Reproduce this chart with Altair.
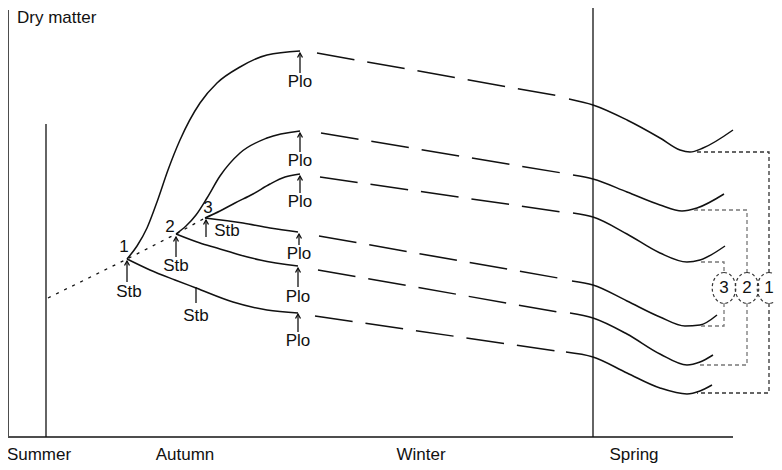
import altair as alt
import pandas as pd

# ---------------- data (schematic units; y grows downward) ----------------
# frame lines: left axis, bottom axis
frame_x = [8, 8]
frame_y = [10, 437]
frame_x2 = [8, 733]
frame_y2 = [437, 437]

# season dividers: summer, spring
divider_x = [46, 593]
divider_top = [124, 8]
divider_bottom = [437, 437]

# stubble points 1-2-3 joined by the dotted line
dotted_x = [48, 127, 176, 205]
dotted_y = [298, 259, 234, 218]

# autumn growth (solid) up to ploughing
growth = {
    "A": ([127, 137, 147, 157, 168, 180, 200, 217, 240, 267, 300],
          [259, 246, 228, 202, 170, 140, 103, 83, 67, 55, 51]),
    "B": ([176, 186, 196, 207, 220, 240, 267, 300],
          [234, 226, 215, 198, 176, 153, 138, 131]),
    "C": ([205, 220, 235, 253, 270, 285, 300],
          [218, 211, 203, 194, 184, 177, 174]),
    "D": ([205, 243, 270, 298],
          [218, 223, 228, 232]),
    "E": ([176, 200, 217, 240, 260, 298],
          [234, 243, 248, 255, 260, 266]),
    "F": ([127, 150, 175, 196, 233, 267, 298],
          [259, 270, 280, 288, 302, 310, 313]),
}

# winter (long dashes)
winter = {
    "A": ([317, 559], [53, 96]),
    "B": ([321, 562], [133, 173]),
    "C": ([320, 562], [177, 212]),
    "D": ([319, 558], [236, 278]),
    "E": ([318, 558], [270, 312]),
    "F": ([315, 556], [316, 351]),
}

# spring (solid)
spring = {
    "A": ([569, 593, 627, 660, 680, 690, 703, 733], [99, 105, 120, 138, 150, 152, 148, 130]),
    "B": ([573, 593, 627, 660, 682, 697, 724], [175, 179, 192, 205, 211, 208, 194]),
    "C": ([573, 593, 627, 660, 687, 700, 725], [213, 217, 234, 253, 262, 260, 246]),
    "D": ([572, 593, 627, 660, 685, 700, 717], [281, 285, 301, 317, 326, 325, 315]),
    "E": ([570, 593, 627, 660, 687, 700, 713], [313, 318, 334, 354, 365, 362, 355]),
    "F": ([566, 593, 627, 660, 687, 700, 712], [352, 357, 373, 388, 394, 391, 385]),
}

# dashed brackets linking spring minima to the circled numbers
brackets = {
    "1a": ([697, 769, 769], [152, 152, 273]),
    "1b": ([769, 769, 697], [303, 393, 393]),
    "2a": ([694, 747, 747], [210, 210, 273]),
    "2b": ([747, 747, 699], [303, 365, 365]),
    "3a": ([701, 724, 724], [262, 262, 273]),
    "3b": ([724, 724, 698], [303, 326, 326]),
}
circle_x = [724, 747, 769]
circle_y = [288, 288, 288]
circle_label = ["3", "2", "1"]

# arrows (x, tail, tip)
plo_x = [300, 300, 300, 299, 298, 298]
plo_tail = [73, 152, 193, 245, 287, 332]
plo_tip = [53, 133, 176, 234, 268, 314]
plo_label_y = [82, 161, 202, 254, 297, 341]

stb_x = [127, 176, 206]
stb_tail = [282, 257, 237]
stb_tip = [261, 237, 220]
stb_label_x = [129, 176, 227, 196]
stb_label_y = [292, 266, 231, 316]

# plain tick (no arrowhead) on the lowest curve
tick_x = [196]
tick_top = [287]
tick_bottom = [303]

point_label = ["1", "2", "3"]
point_label_x = [124, 170, 208]
point_label_y = [247, 227, 208]

seasons = ["Summer", "Autumn", "Winter", "Spring"]
season_x = [39, 185, 421, 634]
season_y = [455, 455, 455, 455]

title_text = ["Dry matter"]
title_x = [17]
title_y = [18]

# ---------------- build tables ----------------
def to_rows(dct, phase):
    rows = []
    for name, (xs_, ys_) in dct.items():
        for i, (xv, yv) in enumerate(zip(xs_, ys_)):
            rows.append({"phase": phase, "seg": phase + name, "grp": name[0], "i": i, "x": xv, "y": yv})
    return rows

curves_df = pd.DataFrame(to_rows(growth, "growth") + to_rows(spring, "spring"))
winter_df = pd.DataFrame(to_rows(winter, "winter"))
bracket_df = pd.DataFrame(to_rows(brackets, "br"))
dotted_df = pd.DataFrame({"x": dotted_x, "y": dotted_y, "i": range(len(dotted_x))})
frame_df = pd.DataFrame({"x": frame_x, "y": frame_y, "x2": frame_x2, "y2": frame_y2})
divider_df = pd.DataFrame({"x": divider_x, "y": divider_top, "y2": divider_bottom})
arrow_df = pd.DataFrame({"x": plo_x + stb_x, "y": plo_tail + stb_tail, "y2": plo_tip + stb_tip})
tick_df = pd.DataFrame({"x": tick_x, "y": tick_top, "y2": tick_bottom})
circle_df = pd.DataFrame({"x": circle_x, "y": circle_y, "t": circle_label})
text_df = pd.DataFrame({
    "x": plo_x + stb_label_x + point_label_x,
    "y": plo_label_y + stb_label_y + point_label_y,
    "t": ["Plo"] * len(plo_x) + ["Stb"] * len(stb_label_x) + point_label,
})
season_df = pd.DataFrame({"x": season_x, "y": season_y, "t": seasons})
title_df = pd.DataFrame({"x": title_x, "y": title_y, "t": title_text})

# ---------------- scales ----------------
xs = alt.Scale(domain=[8, 774], nice=False, zero=False)
ys = alt.Scale(domain=[8, 462], nice=False, zero=False, reverse=True)
X = alt.X("x:Q", scale=xs, axis=None)
Y = alt.Y("y:Q", scale=ys, axis=None)
FONT = "Liberation Sans"
INK = "#111111"
FS = 17

frame = alt.Chart(frame_df).mark_rule(color="#4d4d4d", strokeWidth=2).encode(
    X, Y, x2="x2:Q", y2="y2:Q")
dividers = alt.Chart(divider_df).mark_rule(color=INK, strokeWidth=1.3).encode(X, Y, y2="y2:Q")

solid = alt.Chart(curves_df).mark_line(interpolate="monotone", color=INK, strokeWidth=1.5).encode(
    X, Y, detail="seg:N", order="i:Q")
dashed = alt.Chart(winter_df).mark_line(color=INK, strokeWidth=1.5, strokeDash=[38, 13]).encode(
    X, Y, detail="seg:N", order="i:Q")
dotted = alt.Chart(dotted_df).mark_line(color=INK, strokeWidth=1.3, strokeDash=[3, 6]).encode(
    X, Y, order="i:Q")

bracket = alt.Chart(bracket_df).mark_line(strokeWidth=1.3, strokeDash=[4, 3]).encode(
    X, Y, detail="seg:N", order="i:Q",
    color=alt.Color("grp:N", scale=alt.Scale(domain=["1", "2", "3"], range=["#333333", "#777777", "#777777"]), legend=None))

ELLIPSE = ("M0,-1 C0.4197,-1 0.76,-0.5523 0.76,0 C0.76,0.5523 0.4197,1 0,1 "
           "C-0.4197,1 -0.76,0.5523 -0.76,0 C-0.76,-0.5523 -0.4197,-1 0,-1 Z")
circles = alt.Chart(circle_df).mark_point(shape=ELLIPSE, size=961, filled=False, color="#333333",
                                          strokeWidth=1.2, strokeDash=[3, 2.5], opacity=1).encode(X, Y)
circle_text = alt.Chart(circle_df).mark_text(font=FONT, fontSize=FS, color=INK, baseline="middle").encode(
    X, Y, text="t:N")

shafts = alt.Chart(arrow_df).mark_rule(color=INK, strokeWidth=1.3).encode(X, Y, y2="y2:Q")
HEAD = "M-1,1.8 L0,0 L1,1.8"
heads = alt.Chart(arrow_df).mark_point(shape=HEAD, size=25, filled=False, color=INK,
                                       strokeWidth=1.3, opacity=1).encode(X, alt.Y("y2:Q", scale=ys, axis=None))
tick = alt.Chart(tick_df).mark_rule(color=INK, strokeWidth=1.3).encode(X, Y, y2="y2:Q")

labels = alt.Chart(text_df).mark_text(font=FONT, fontSize=FS, color=INK, baseline="middle").encode(
    X, Y, text="t:N")
season_text = alt.Chart(season_df).mark_text(font=FONT, fontSize=FS, color=INK, baseline="middle").encode(
    X, Y, text="t:N")
title = alt.Chart(title_df).mark_text(font=FONT, fontSize=FS, color=INK, baseline="middle", align="left").encode(
    X, Y, text="t:N")

chart = alt.layer(
    frame, dividers, dotted, solid, dashed, bracket, circles, circle_text,
    shafts, heads, tick, labels, season_text, title
).properties(
    width=766, height=454,
    autosize=alt.AutoSizeParams(type="none"),
    padding={"left": 0, "top": 0, "right": 0, "bottom": 8},
    background="white",
).configure_view(stroke=None)

chart.save("out.html", embed_options={"renderer": "svg", "actions": False})
